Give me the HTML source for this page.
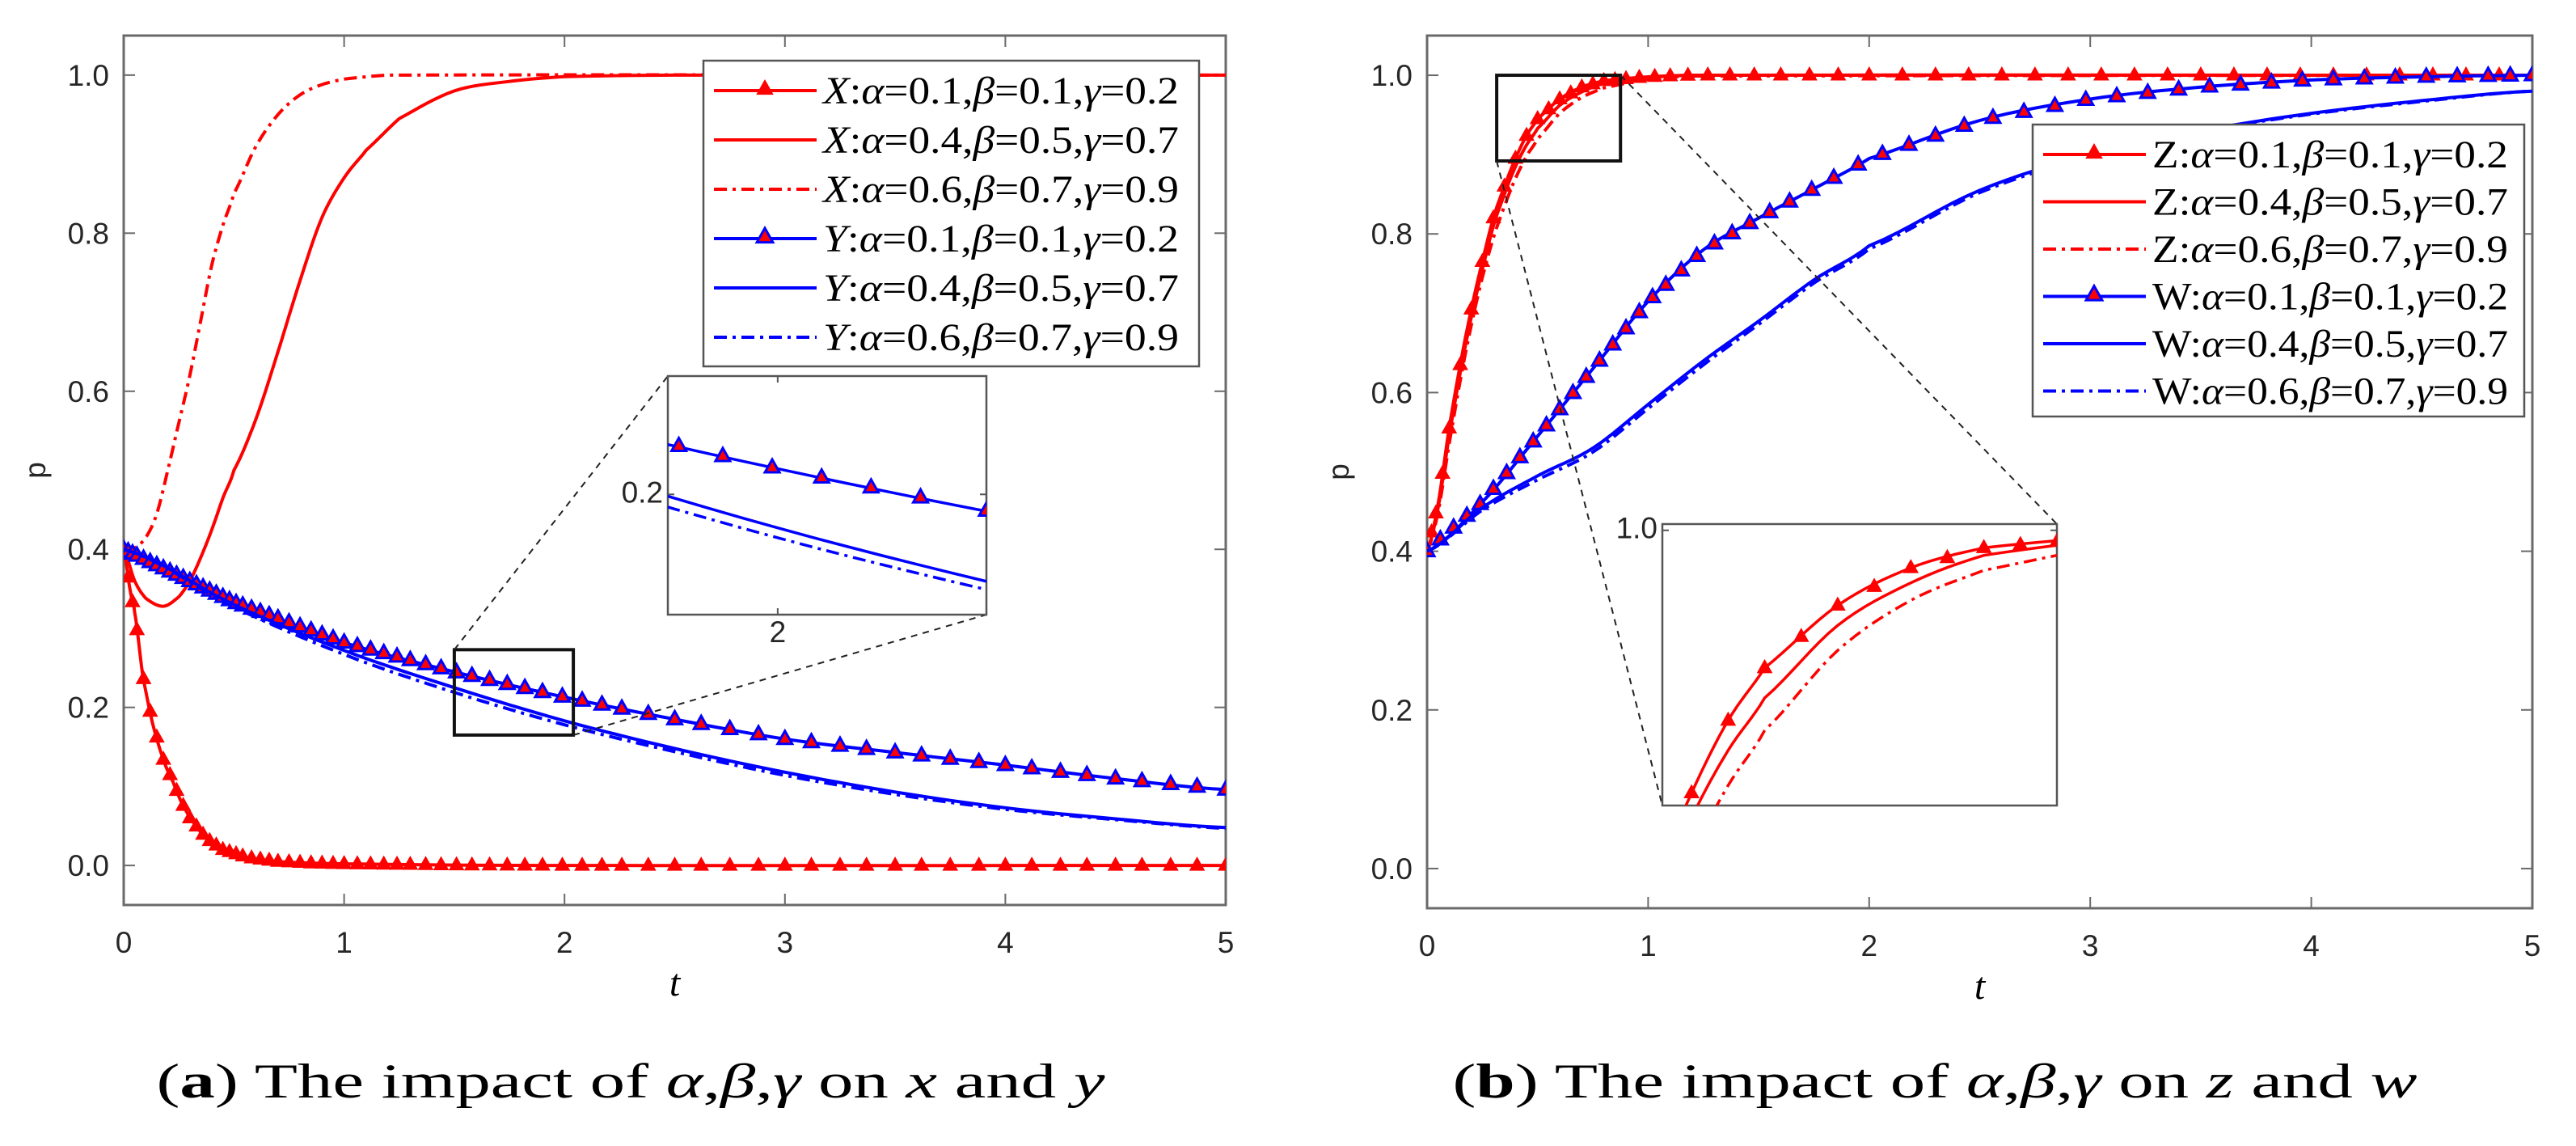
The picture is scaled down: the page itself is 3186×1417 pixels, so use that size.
<!DOCTYPE html>
<html><head><meta charset="utf-8"><style>
html,body{margin:0;padding:0;background:#fff;width:3186px;height:1417px;overflow:hidden;}
svg{display:block;}
.tick{font-family:"Liberation Sans",Arial,sans-serif;font-size:37px;fill:#262626;}
.leg{font-family:"Liberation Serif","Times New Roman",serif;font-size:48px;fill:#000;}
.cap{font-family:"Liberation Serif","Times New Roman",serif;font-size:60px;fill:#000;font-weight:normal;}
</style></head><body>
<svg id="fig" width="3186" height="1417" viewBox="0 0 3186 1417" xmlns="http://www.w3.org/2000/svg">
<defs>
<clipPath id="clipA"><rect x="153" y="44" width="1363" height="1075"/></clipPath>
<clipPath id="clipB"><rect x="1765" y="44" width="1367" height="1079"/></clipPath>
<clipPath id="clipAi"><rect x="826" y="465" width="394" height="295"/></clipPath>
<clipPath id="clipBi"><rect x="2056" y="648" width="488" height="348"/></clipPath>
</defs>
<g id="panelA"></g>
<g id="panelB"></g>
<text class="cap" font-family="Liberation Serif, serif" x="780" y="1357" text-anchor="middle" textLength="1173" lengthAdjust="spacingAndGlyphs">(<tspan font-weight="bold">a</tspan>) The impact of <tspan font-style="italic">α</tspan>,<tspan font-style="italic">β</tspan>,<tspan font-style="italic">γ</tspan>  on  <tspan font-style="italic">x</tspan>  and  <tspan font-style="italic">y</tspan></text>
<text class="cap" font-family="Liberation Serif, serif" x="2393" y="1357" text-anchor="middle" textLength="1193" lengthAdjust="spacingAndGlyphs">(<tspan font-weight="bold">b</tspan>) The impact of <tspan font-style="italic">α</tspan>,<tspan font-style="italic">β</tspan>,<tspan font-style="italic">γ</tspan>  on  <tspan font-style="italic">z</tspan>  and  <tspan font-style="italic">w</tspan></text>
</svg>
<script>
// ---------- data: panel a ----------
const tX1 = [0,0.03,0.05,0.085,0.13,0.18,0.225,0.26,0.3,0.375,0.45,0.56,0.7,0.85,1.0,1.5,2,5];
const vX1 = [0.4,0.347,0.32,0.243,0.181,0.134,0.105,0.081,0.06,0.034,0.02,0.01,0.005,0.003,0.002,0.0005,0,0];
const tX2 = [0,0.05,0.1,0.18,0.25,0.3,0.35,0.4,0.45,0.5,0.6,0.7,0.8,0.9,1.0,1.1,1.25,1.5,1.75,2,2.5,5];
const vX2 = [0.4,0.36,0.338,0.328,0.34,0.36,0.39,0.425,0.465,0.5,0.565,0.65,0.74,0.82,0.87,0.905,0.945,0.98,0.992,0.998,1,1];
const tX3 = [0,0.05,0.1,0.15,0.2,0.25,0.3,0.35,0.4,0.45,0.5,0.6,0.7,0.8,0.9,1.0,1.2,5];
const vX3 = [0.4,0.402,0.415,0.445,0.5,0.56,0.62,0.69,0.76,0.81,0.85,0.91,0.95,0.975,0.988,0.995,1,1];
const tY = [0,0.5,1,1.5,2,2.5,3,3.5,4,4.5,5];
const vY1 = [0.4,0.333,0.282,0.245,0.213,0.185,0.16,0.143,0.127,0.11,0.096];
const vY2 = [0.4,0.33,0.272,0.225,0.183,0.148,0.118,0.093,0.073,0.059,0.048];
const vY3 = [0.4,0.327,0.267,0.219,0.178,0.144,0.114,0.09,0.071,0.058,0.047];
const markTA = [0,0.02,0.04,0.06,0.09,0.12,0.15,0.18,0.21,0.24,0.27,0.3,0.33,0.36,0.39,0.42,0.45,0.48,0.51,0.54,0.58,0.62,0.66,0.7,0.75,0.8,0.85,0.9,0.95,1.0,1.06,1.12,1.18,1.24,1.3,1.37,1.44,1.51,1.58,1.66,1.74,1.82,1.9,1.99,2.08,2.17,2.26,2.38,2.5,2.62,2.75,2.88,3.0,3.12,3.25,3.37,3.5,3.62,3.75,3.88,4.0,4.12,4.25,4.37,4.5,4.62,4.75,4.87,5];
// ---------- data: panel b ----------
const tZ = [0,0.05,0.1,0.15,0.2,0.25,0.3,0.35,0.4,0.45,0.5,0.6,0.7,0.8,1.0,1.2,5];
const vZ1 = [0.4,0.46,0.555,0.635,0.705,0.765,0.82,0.86,0.895,0.924,0.945,0.97,0.985,0.993,0.998,1,1];
const vZ2 = [0.4,0.455,0.545,0.625,0.695,0.755,0.81,0.85,0.885,0.912,0.933,0.962,0.979,0.99,0.997,1,1];
const vZ3 = [0.4,0.45,0.535,0.615,0.685,0.745,0.795,0.835,0.87,0.898,0.92,0.952,0.972,0.984,0.995,0.999,1];
const tW = [0,0.25,0.5,0.75,1,1.25,1.5,1.75,2,2.5,3,3.5,4,4.5,5];
const vW1 = [0.4,0.462,0.545,0.63,0.715,0.78,0.82,0.857,0.895,0.943,0.97,0.985,0.994,0.998,1];
const vW2 = [0.4,0.455,0.495,0.53,0.585,0.64,0.69,0.742,0.785,0.855,0.9,0.93,0.952,0.968,0.98];
const vW3 = [0.4,0.452,0.49,0.525,0.58,0.635,0.686,0.738,0.781,0.852,0.898,0.929,0.951,0.967,0.98];
const markTZ = [0,0.02,0.04,0.07,0.1,0.15,0.2,0.25,0.3,0.35,0.4,0.45,0.5,0.55,0.6,0.65,0.7,0.75,0.8,0.85,0.9,0.96,1.03,1.1,1.18,1.27,1.37,1.48,1.6,1.73,1.86,2.0,2.15,2.3,2.45,2.6,2.75,2.9,3.05,3.2,3.35,3.5,3.65,3.8,3.95,4.1,4.25,4.4,4.55,4.7,4.85,5];
const markTW = [0,0.06,0.12,0.18,0.24,0.3,0.36,0.42,0.48,0.54,0.6,0.66,0.72,0.78,0.84,0.9,0.96,1.02,1.08,1.15,1.22,1.3,1.38,1.46,1.55,1.64,1.74,1.84,1.95,2.06,2.18,2.3,2.43,2.56,2.7,2.84,2.98,3.12,3.26,3.4,3.54,3.68,3.82,3.96,4.1,4.24,4.38,4.52,4.66,4.8,4.9,5];
const xTicks = [0,1,2,3,4,5];
const yTicks = [0.0,0.2,0.4,0.6,0.8,1.0];
const legA = ["X","X","X","Y","Y","Y"];
const legB = ["Z","Z","Z","W","W","W"];
const legParams = [["0.1","0.1","0.2"],["0.4","0.5","0.7"],["0.6","0.7","0.9"],["0.1","0.1","0.2"],["0.4","0.5","0.7"],["0.6","0.7","0.9"]];

const NS = "http://www.w3.org/2000/svg";
function mk(tag, attrs, parent){ const e=document.createElementNS(NS,tag); for(const k in attrs) e.setAttribute(k,attrs[k]); parent.appendChild(e); return e; }
function interp(ts, vs, t){ if(t<=ts[0]) return vs[0]; for(let i=1;i<ts.length;i++){ if(t<=ts[i]){ const f=(t-ts[i-1])/(ts[i]-ts[i-1]); return vs[i-1]+f*(vs[i]-vs[i-1]); } } return vs[vs.length-1]; }
function scale(d0,d1,r0,r1){ return v=>r0+(v-d0)/(d1-d0)*(r1-r0); }
function smooth(ts, vs){ const out=[]; for(let i=0;i<ts.length-1;i++){ const n=8; for(let k=0;k<n;k++){ const t=ts[i]+(ts[i+1]-ts[i])*k/n; out.push([t,catmull(ts,vs,i,k/n)]); } } out.push([ts[ts.length-1],vs[vs.length-1]]); return out; }
function catmull(ts,vs,i,u){ const p0=vs[Math.max(0,i-1)],p1=vs[i],p2=vs[i+1],p3=vs[Math.min(vs.length-1,i+2)]; const u2=u*u,u3=u2*u; let v=0.5*((2*p1)+(-p0+p2)*u+(2*p0-5*p1+4*p2-p3)*u2+(-p0+3*p1-3*p2+p3)*u3); const lo=Math.min(p1,p2),hi=Math.max(p1,p2); return Math.max(lo-0.003,Math.min(hi+0.003,v)); }

function drawSeries(g, sx, sy, ts, vs, color, dash, width, name, clip){
  const pts = smooth(ts,vs).map(p=>sx(p[0]).toFixed(1)+","+sy(p[1]).toFixed(1)).join(" ");
  const pl = mk("polyline",{points:pts,fill:"none",stroke:color,"stroke-width":width,"stroke-dasharray":dash||"none","clip-path":"url(#"+clip+")"},g);
  
  
}
function tri(g,x,y,s,edge,face,name){
  const p = mk("polygon",{points:`${x},${y-s} ${x-s*0.9},${y+s*0.6} ${x+s*0.9},${y+s*0.6}`,fill:face,stroke:edge,"stroke-width":edge===face?1:3},g);
  
  
}
function drawMarkers(g,sx,sy,ts,vs,marks,edge,face,name,clip,x0,x1,y0,y1,size){
  const mg = mk("g",{"clip-path":"url(#"+clip+")"},g);
  
  
  marks.forEach(t=>{ if(t<x0||t>x1) return; const v=interp(ts,vs,t); if(v<y0||v>y1) return; tri(mg,sx(t),sy(v),size,edge,face,name+'-marker'); });
}

function panel(cfg){
  const g = document.getElementById(cfg.id);
  const sx = scale(0,5,cfg.L,cfg.R), sy = scale(-0.05,1.05,cfg.B,cfg.T);
  const ax = mk("g",{},g);
  
  
  mk("rect",{x:cfg.L,y:cfg.T,width:cfg.R-cfg.L,height:cfg.B-cfg.T,fill:"none",stroke:"#6a6a6a","stroke-width":3},ax);
  xTicks.forEach(v=>{ const x=sx(v);
    mk("line",{x1:x,y1:cfg.B,x2:x,y2:cfg.B-14,stroke:"#6a6a6a","stroke-width":2},ax);
    mk("line",{x1:x,y1:cfg.T,x2:x,y2:cfg.T+14,stroke:"#6a6a6a","stroke-width":2},ax);
    const tl = mk("text",{x:x,y:cfg.B+59,"text-anchor":"middle",class:"tick"},g); tl.textContent=String(v);
    
    
  });
  yTicks.forEach(v=>{ const y=sy(v);
    mk("line",{x1:cfg.L,y1:y,x2:cfg.L+14,y2:y,stroke:"#6a6a6a","stroke-width":2},ax);
    mk("line",{x1:cfg.R,y1:y,x2:cfg.R-14,y2:y,stroke:"#6a6a6a","stroke-width":2},ax);
    const tl = mk("text",{x:cfg.L-18,y:y+13,"text-anchor":"end",class:"tick"},g); tl.textContent=v.toFixed(1);
    
    
  });
  const yl = mk("text",{x:0,y:0,transform:`translate(${cfg.L-97},${(cfg.T+cfg.B)/2}) rotate(-90)`,"text-anchor":"middle",class:"tick"},g); yl.textContent="p";
  
  
  const xl = mk("text",{x:(cfg.L+cfg.R)/2,y:cfg.B+112,"text-anchor":"middle",class:"leg","font-style":"italic","font-size":"40"},g); xl.textContent="t";
  
  

  cfg.series.forEach(s=>{
    drawSeries(g,sx,sy,s.t,s.v,s.c,s.dash,4,s.name,cfg.clip);
    if(s.marks) drawMarkers(g,sx,sy,s.t,s.v,s.marks,s.c,s.face,s.name,cfg.clip,0,5,-0.05,1.05,10);
  });

  const z = cfg.zoom;
  const zb = mk("rect",{x:sx(z.t0),y:sy(z.p1),width:sx(z.t1)-sx(z.t0),height:sy(z.p0)-sy(z.p1),fill:"none",stroke:"#111","stroke-width":4},g);
  
  
  const I = cfg.inset;
  z.links.forEach(l=>{
    const c = mk("line",{x1:l[0]===0?sx(z.t0):sx(z.t1),y1:l[1]===0?sy(z.p1):sy(z.p0),x2:l[2]===0?I.L:I.R,y2:l[3]===0?I.T:I.B,stroke:"#222","stroke-width":2,"stroke-dasharray":"8,7"},g);
    
    
  });

  const lg = mk("g",{},g);
  
  
  const Lg = cfg.legend;
  mk("rect",{x:Lg.x,y:Lg.y,width:Lg.w,height:Lg.h,fill:"#fff",stroke:"#555","stroke-width":2.5},lg);
  cfg.series.forEach((s,i)=>{
    const y = Lg.row0 + i*Lg.dy;
    const e = mk("g",{},lg);
    
    
    mk("line",{x1:Lg.x+13,y1:y,x2:Lg.x+140,y2:y,stroke:s.c,"stroke-width":4,"stroke-dasharray":s.dash||"none"},e);
    if(s.marks) tri(e,Lg.x+76,y-2,11,s.c,s.face,'legend-marker');
    const tx = mk("text",{x:Lg.x+148,y:y+16,class:"leg",textLength:Lg.tl,lengthAdjust:"spacingAndGlyphs"},e);
    const p = legParams[i];
    tx.innerHTML = `<tspan font-style="${Lg.italicLetter?'italic':'normal'}">${cfg.letters[i]}</tspan>:<tspan font-style="italic">α</tspan>=${p[0]},<tspan font-style="italic">β</tspan>=${p[1]},<tspan font-style="italic">γ</tspan>=${p[2]}`;
  });

  const ig = mk("g",{},g);
  
  
  mk("rect",{x:I.L,y:I.T,width:I.R-I.L,height:I.B-I.T,fill:"#fff",stroke:"#555","stroke-width":2.5},ig);
  const isx = scale(I.t0,I.t1,I.L,I.R), isy = scale(I.p0,I.p1,I.B,I.T);
  I.xt.forEach(v=>{ const x=isx(v);
    mk("line",{x1:x,y1:I.B,x2:x,y2:I.B-8,stroke:"#555","stroke-width":2},ig);
    mk("line",{x1:x,y1:I.T,x2:x,y2:I.T+8,stroke:"#555","stroke-width":2},ig);
    const t=mk("text",{x:x,y:I.B+34,"text-anchor":"middle",class:"tick","font-size":"28"},ig); t.textContent=String(v);
    
    
  });
  I.yt.forEach(v=>{ const y=isy(v);
    mk("line",{x1:I.L,y1:y,x2:I.L+8,y2:y,stroke:"#555","stroke-width":2},ig);
    mk("line",{x1:I.R,y1:y,x2:I.R-8,y2:y,stroke:"#555","stroke-width":2},ig);
    const t=mk("text",{x:I.L-6,y:y+10,"text-anchor":"end",class:"tick","font-size":"28"},ig); t.textContent=v.toFixed(1);
    
    
  });
  cfg.series.forEach(s=>{
    drawSeries(ig,isx,isy,s.t,s.v,s.c,s.dash,3.5,'inset-'+s.name,I.clip);
    if(s.marks) drawMarkers(ig,isx,isy,s.t,s.v,s.marks,s.c,s.face,'inset-'+s.name,I.clip,I.t0,I.t1,I.p0-0.01,I.p1,10);
  });
}

const DD = "16,7,4,7";
panel({id:"panelA",L:153,R:1516,T:44,B:1119,clip:"clipA",letters:legA,
  series:[
    {name:"series-x-a01",t:tX1,v:vX1,c:"#ff0000",marks:markTA,face:"#ff0000"},
    {name:"series-x-a04",t:tX2,v:vX2,c:"#ff0000"},
    {name:"series-x-a06",t:tX3,v:vX3,c:"#ff0000",dash:DD},
    {name:"series-y-a01",t:tY,v:vY1,c:"#0000ff",marks:markTA,face:"#ff0000"},
    {name:"series-y-a04",t:tY,v:vY2,c:"#0000ff"},
    {name:"series-y-a06",t:tY,v:vY3,c:"#0000ff",dash:DD}],
  zoom:{t0:1.5,t1:2.04,p0:0.165,p1:0.273,links:[[0,0,0,0],[1,1,1,1]]},
  inset:{L:826,R:1220,T:465,B:760,t0:1.8,t1:2.38,p0:0.139,p1:0.26,xt:[2],yt:[0.2],clip:"clipAi"},
  legend:{x:870,y:75,w:613,h:378,row0:112,dy:61,tl:440,italicLetter:true}
});
panel({id:"panelB",L:1765,R:3132,T:44,B:1123,clip:"clipB",letters:legB,
  series:[
    {name:"series-z-a01",t:tZ,v:vZ1,c:"#ff0000",marks:markTZ,face:"#ff0000"},
    {name:"series-z-a04",t:tZ,v:vZ2,c:"#ff0000"},
    {name:"series-z-a06",t:tZ,v:vZ3,c:"#ff0000",dash:DD},
    {name:"series-w-a01",t:tW,v:vW1,c:"#0000ff",marks:markTW,face:"#ff0000"},
    {name:"series-w-a04",t:tW,v:vW2,c:"#0000ff"},
    {name:"series-w-a06",t:tW,v:vW3,c:"#0000ff",dash:DD}],
  zoom:{t0:0.315,t1:0.875,p0:0.892,p1:1.0,links:[[0,1,0,1],[1,0,1,0]]},
  inset:{L:2056,R:2544,T:648,B:996,t0:0.36,t1:0.9,p0:0.89,p1:1.0025,xt:[],yt:[1.0],clip:"clipBi"},
  legend:{x:2514,y:154,w:608,h:361,row0:191,dy:58.5,tl:440,italicLetter:false}
});
</script>
</body></html>
